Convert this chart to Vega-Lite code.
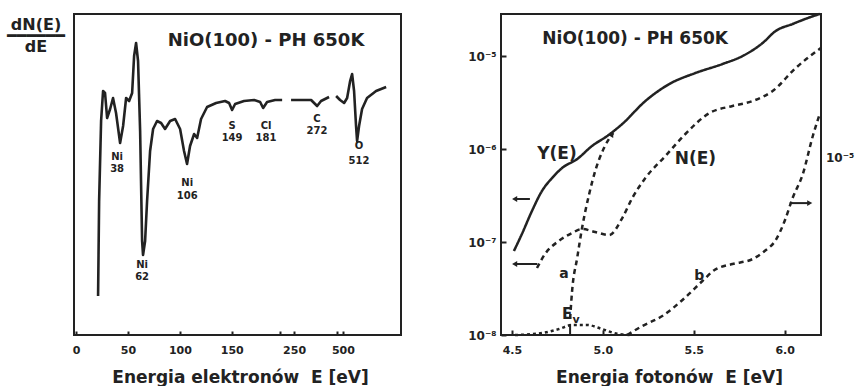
{
  "$schema": "https://vega.github.io/schema/vega-lite/v6.json",
  "padding": {"left": 5, "top": 8, "right": 0, "bottom": 0},
  "spacing": 64,
  "config": {
    "view": {"stroke": "#222", "strokeWidth": 2},
    "axis": {"labelFont": "DejaVu Sans", "labelFontWeight": "bold", "labelFontSize": 11, "labelColor": "#222", "titleFont": "DejaVu Sans", "titleFontWeight": "bold", "titleFontSize": 17, "titleColor": "#222", "tickColor": "#222", "tickWidth": 2, "grid": false, "domain": false},
    "text": {"font": "DejaVu Sans", "fontWeight": "bold", "color": "#222"}
  },
  "datasets": {
    "auger": [
      {"seg": 1, "pos": 21.2, "signal": 39}, {"seg": 1, "pos": 22.2, "signal": 134}, {"seg": 1, "pos": 24.1, "signal": 214}, {"seg": 1, "pos": 26.0, "signal": 244}, {"seg": 1, "pos": 27.9, "signal": 242}, {"seg": 1, "pos": 29.9, "signal": 217}, {"seg": 1, "pos": 32.8, "signal": 226}, {"seg": 1, "pos": 35.6, "signal": 237}, {"seg": 1, "pos": 38.5, "signal": 222}, {"seg": 1, "pos": 42.4, "signal": 192}, {"seg": 1, "pos": 45.3, "signal": 209}, {"seg": 1, "pos": 48.2, "signal": 237}, {"seg": 1, "pos": 51.1, "signal": 234}, {"seg": 1, "pos": 54.0, "signal": 242}, {"seg": 1, "pos": 55.9, "signal": 279}, {"seg": 1, "pos": 57.8, "signal": 292}, {"seg": 1, "pos": 59.7, "signal": 274}, {"seg": 1, "pos": 61.7, "signal": 204}, {"seg": 1, "pos": 63.6, "signal": 94}, {"seg": 1, "pos": 64.5, "signal": 80}, {"seg": 1, "pos": 66.5, "signal": 94}, {"seg": 1, "pos": 68.4, "signal": 134}, {"seg": 1, "pos": 71.3, "signal": 184}, {"seg": 1, "pos": 74.2, "signal": 206}, {"seg": 1, "pos": 78.0, "signal": 214}, {"seg": 1, "pos": 81.9, "signal": 212}, {"seg": 1, "pos": 85.7, "signal": 206}, {"seg": 1, "pos": 90.6, "signal": 214}, {"seg": 1, "pos": 95.4, "signal": 216}, {"seg": 1, "pos": 100.2, "signal": 206}, {"seg": 1, "pos": 104.0, "signal": 184}, {"seg": 1, "pos": 106.9, "signal": 171}, {"seg": 1, "pos": 109.8, "signal": 189}, {"seg": 1, "pos": 113.7, "signal": 201}, {"seg": 1, "pos": 116.6, "signal": 197}, {"seg": 1, "pos": 120.4, "signal": 216}, {"seg": 1, "pos": 126.2, "signal": 228}, {"seg": 1, "pos": 134.9, "signal": 232}, {"seg": 1, "pos": 143.5, "signal": 234}, {"seg": 1, "pos": 147.4, "signal": 232}, {"seg": 1, "pos": 150.3, "signal": 225}, {"seg": 1, "pos": 153.2, "signal": 231}, {"seg": 1, "pos": 161.8, "signal": 234}, {"seg": 1, "pos": 171.5, "signal": 235}, {"seg": 1, "pos": 177.3, "signal": 233}, {"seg": 1, "pos": 180.2, "signal": 227}, {"seg": 1, "pos": 184.0, "signal": 233}, {"seg": 1, "pos": 191.7, "signal": 235}, {"seg": 1, "pos": 198.5, "signal": 235},
      {"seg": 2, "pos": 207.1, "signal": 235}, {"seg": 2, "pos": 219.7, "signal": 235}, {"seg": 2, "pos": 226.4, "signal": 235}, {"seg": 2, "pos": 232.2, "signal": 229}, {"seg": 2, "pos": 236.0, "signal": 234}, {"seg": 2, "pos": 243.7, "signal": 238},
      {"seg": 3, "pos": 250.5, "signal": 239}, {"seg": 3, "pos": 254.3, "signal": 235}, {"seg": 3, "pos": 258.2, "signal": 232}, {"seg": 3, "pos": 261.1, "signal": 237}, {"seg": 3, "pos": 264.0, "signal": 254}, {"seg": 3, "pos": 265.9, "signal": 261}, {"seg": 3, "pos": 267.8, "signal": 244}, {"seg": 3, "pos": 269.7, "signal": 209}, {"seg": 3, "pos": 270.7, "signal": 194}, {"seg": 3, "pos": 272.6, "signal": 209}, {"seg": 3, "pos": 275.5, "signal": 226}, {"seg": 3, "pos": 280.3, "signal": 237}, {"seg": 3, "pos": 289.0, "signal": 244}, {"seg": 3, "pos": 298.7, "signal": 248}
    ],
    "auger_labels": [
      {"pos": 39.5, "signal": 178, "text": "Ni"}, {"pos": 39.5, "signal": 166, "text": "38"},
      {"pos": 63.6, "signal": 70, "text": "Ni"}, {"pos": 63.6, "signal": 58, "text": "62"},
      {"pos": 107, "signal": 152, "text": "Ni"}, {"pos": 107, "signal": 139, "text": "106"},
      {"pos": 150.3, "signal": 209, "text": "S"}, {"pos": 150.3, "signal": 197, "text": "149"},
      {"pos": 183, "signal": 209, "text": "Cl"}, {"pos": 183, "signal": 197, "text": "181"},
      {"pos": 232, "signal": 216, "text": "C"}, {"pos": 232, "signal": 204, "text": "272"},
      {"pos": 272.6, "signal": 189, "text": "O"}, {"pos": 272.6, "signal": 174, "text": "512"}
    ],
    "photo": [
      {"curve": "Y", "E": 4.511, "v": 8.0e-8}, {"curve": "Y", "E": 4.555, "v": 1.22e-7}, {"curve": "Y", "E": 4.610, "v": 2.15e-7}, {"curve": "Y", "E": 4.665, "v": 3.53e-7}, {"curve": "Y", "E": 4.721, "v": 4.88e-7}, {"curve": "Y", "E": 4.776, "v": 6.25e-7}, {"curve": "Y", "E": 4.859, "v": 7.8e-7}, {"curve": "Y", "E": 4.941, "v": 1.08e-6}, {"curve": "Y", "E": 5.024, "v": 1.38e-6}, {"curve": "Y", "E": 5.107, "v": 1.86e-6}, {"curve": "Y", "E": 5.234, "v": 3.28e-6}, {"curve": "Y", "E": 5.366, "v": 5.0e-6}, {"curve": "Y", "E": 5.509, "v": 6.56e-6}, {"curve": "Y", "E": 5.658, "v": 8.2e-6}, {"curve": "Y", "E": 5.769, "v": 1.0e-5}, {"curve": "Y", "E": 5.879, "v": 1.38e-5}, {"curve": "Y", "E": 5.951, "v": 1.86e-5}, {"curve": "Y", "E": 6.044, "v": 2.21e-5}, {"curve": "Y", "E": 6.127, "v": 2.56e-5}, {"curve": "Y", "E": 6.193, "v": 2.83e-5},
      {"curve": "N", "E": 4.638, "v": 5.25e-8}, {"curve": "N", "E": 4.682, "v": 7.43e-8}, {"curve": "N", "E": 4.759, "v": 1.03e-7}, {"curve": "N", "E": 4.831, "v": 1.25e-7}, {"curve": "N", "E": 4.886, "v": 1.38e-7}, {"curve": "N", "E": 4.958, "v": 1.28e-7}, {"curve": "N", "E": 5.035, "v": 1.19e-7}, {"curve": "N", "E": 5.107, "v": 1.81e-7}, {"curve": "N", "E": 5.162, "v": 2.97e-7}, {"curve": "N", "E": 5.234, "v": 4.88e-7}, {"curve": "N", "E": 5.344, "v": 8.41e-7}, {"curve": "N", "E": 5.454, "v": 1.45e-6}, {"curve": "N", "E": 5.587, "v": 2.44e-6}, {"curve": "N", "E": 5.713, "v": 2.9e-6}, {"curve": "N", "E": 5.824, "v": 3.28e-6}, {"curve": "N", "E": 5.934, "v": 4.21e-6}, {"curve": "N", "E": 6.061, "v": 7.43e-6}, {"curve": "N", "E": 6.199, "v": 1.22e-5},
      {"curve": "a", "E": 4.820, "v": 1.49e-8}, {"curve": "a", "E": 4.831, "v": 2.97e-8}, {"curve": "a", "E": 4.859, "v": 6.73e-8}, {"curve": "a", "E": 4.886, "v": 1.42e-7}, {"curve": "a", "E": 4.925, "v": 3.28e-7}, {"curve": "a", "E": 4.958, "v": 5.79e-7}, {"curve": "a", "E": 5.007, "v": 1.03e-6}, {"curve": "a", "E": 5.057, "v": 1.49e-6},
      {"curve": "b", "E": 5.134, "v": 1.0e-8}, {"curve": "b", "E": 5.217, "v": 1.25e-8}, {"curve": "b", "E": 5.327, "v": 1.6e-8}, {"curve": "b", "E": 5.438, "v": 2.38e-8}, {"curve": "b", "E": 5.548, "v": 3.81e-8}, {"curve": "b", "E": 5.614, "v": 5.0e-8}, {"curve": "b", "E": 5.713, "v": 5.8e-8}, {"curve": "b", "E": 5.824, "v": 6.56e-8}, {"curve": "b", "E": 5.890, "v": 8.0e-8}, {"curve": "b", "E": 5.951, "v": 1.05e-7}, {"curve": "b", "E": 6.000, "v": 1.68e-7}, {"curve": "b", "E": 6.044, "v": 2.97e-7}, {"curve": "b", "E": 6.100, "v": 5.38e-7}, {"curve": "b", "E": 6.155, "v": 1.38e-6}, {"curve": "b", "E": 6.193, "v": 2.38e-6},
      {"curve": "Ev", "E": 4.517, "v": 1.0e-8}, {"curve": "Ev", "E": 4.665, "v": 1.05e-8}, {"curve": "Ev", "E": 4.759, "v": 1.16e-8}, {"curve": "Ev", "E": 4.831, "v": 1.28e-8}, {"curve": "Ev", "E": 4.914, "v": 1.28e-8}, {"curve": "Ev", "E": 4.996, "v": 1.16e-8}, {"curve": "Ev", "E": 5.079, "v": 1.03e-8}, {"curve": "Ev", "E": 5.162, "v": 1.0e-8}
    ],
    "arrows": [
      {"E": 4.599, "E2": 4.515, "v": 2.9e-7, "dir": "left"},
      {"E": 4.640, "E2": 4.515, "v": 5.8e-8, "dir": "left"},
      {"E": 6.028, "E2": 6.138, "v": 2.62e-7, "dir": "right"}
    ]
  },
  "hconcat": [
    {
      "width": 327,
      "height": 321,
      "layer": [
        {
          "data": {"name": "auger"},
          "mark": {"type": "line", "color": "#222", "strokeWidth": 2.6, "strokeJoin": "round"},
          "encoding": {
            "x": {"field": "pos", "type": "quantitative", "scale": {"domain": [-2, 313], "nice": false, "zero": false},
              "axis": {"values": [0, 50, 100, 150, 196.5, 210, 251, 257], "labelExpr": "datum.value==0?'0':datum.value==50?'50':datum.value==100?'100':datum.value==150?'150':datum.value==210?'250':datum.value==257?'500':''", "labelOverlap": false, "labelFlush": false, "tickSize": -4, "labelPadding": 13, "title": "Energia elektronów\u00a0 E [eV]", "titlePadding": 14, "titleX": 166}},
            "y": {"field": "signal", "type": "quantitative", "scale": {"domain": [0, 321], "nice": false},
              "axis": {"labels": false, "ticks": false, "title": ["dN(E)", "━━━━━━", "dE"], "titleAngle": 0, "titleAlign": "center", "titleBaseline": "top", "titleX": -38.5, "titleY": 2, "titleFontSize": 16, "titleLineHeight": 11}},
            "detail": {"field": "seg", "type": "nominal"}
          }
        },
        {
          "data": {"name": "auger_labels"},
          "mark": {"type": "text", "fontSize": 10},
          "encoding": {
            "x": {"field": "pos", "type": "quantitative"},
            "y": {"field": "signal", "type": "quantitative"},
            "text": {"field": "text"}
          }
        },
        {
          "data": {"values": [{"pos": 183, "signal": 294, "text": "NiO(100) - PH 650K"}]},
          "mark": {"type": "text", "fontSize": 18},
          "encoding": {
            "x": {"field": "pos", "type": "quantitative"},
            "y": {"field": "signal", "type": "quantitative"},
            "text": {"field": "text"}
          }
        }
      ]
    },
    {
      "width": 320,
      "height": 321,
      "encoding": {
        "x": {"field": "E", "type": "quantitative", "scale": {"domain": [4.44, 6.2], "nice": false, "zero": false},
          "axis": {"values": [4.5, 5.0, 5.5, 6.0], "format": ".1f", "tickSize": -5, "labelPadding": 14, "labelFlush": false, "title": "Energia fotonów\u00a0 E [eV]", "titlePadding": 14, "titleX": 168}},
        "y": {"field": "v", "type": "quantitative", "scale": {"type": "log", "domain": [1e-8, 2.83e-5], "nice": false},
          "axis": {"values": [1e-8, 1e-7, 1e-6, 1e-5], "labelExpr": "datum.value>9e-6?'10⁻⁵':datum.value>9e-7?'10⁻⁶':datum.value>9e-8?'10⁻⁷':'10⁻⁸'", "labelFontSize": 12, "tickSize": -5, "labelPadding": 10, "labelOverlap": false, "labelFlush": false, "title": null}}
      },
      "layer": [
        {
          "data": {"name": "photo"},
          "mark": {"type": "line", "color": "#222", "strokeWidth": 2.5, "interpolate": "monotone"},
          "encoding": {
            "strokeDash": {"field": "curve", "type": "nominal", "scale": {"domain": ["Y", "N", "a", "b", "Ev"], "range": [[1, 0], [5, 4], [5, 4], [5, 4], [3, 3]]}, "legend": null}
          }
        },
        {
          "data": {"name": "arrows"},
          "mark": {"type": "rule", "color": "#222", "strokeWidth": 2},
          "encoding": {"x2": {"field": "E2"}}
        },
        {
          "data": {"name": "arrows"},
          "mark": {"type": "point", "filled": true, "color": "#222", "opacity": 1, "size": 35},
          "encoding": {
            "x": {"field": "E2", "type": "quantitative"},
            "shape": {"field": "dir", "type": "nominal", "scale": {"domain": ["left", "right"], "range": ["triangle-left", "triangle-right"]}, "legend": null}
          }
        },
        {
          "data": {"values": [{"E": 5.05, "v": 1.45e-6}]},
          "mark": {"type": "point", "shape": "triangle-up", "angle": 31, "filled": true, "color": "#222", "opacity": 1, "size": 40}
        },
        {
          "data": {"values": [{"E": 4.82, "v": 1e-8, "v2": 1.31e-8}]},
          "mark": {"type": "rule", "color": "#222", "strokeWidth": 2},
          "encoding": {"y2": {"field": "v2"}}
        },
        {
          "data": {"values": [{"E": 5.178, "v": 1.52e-5, "text": "NiO(100) - PH 650K"}, {"E": 4.748, "v": 8.83e-7, "text": "Y(E)"}, {"E": 5.509, "v": 7.8e-7, "text": "N(E)"}]},
          "mark": {"type": "text", "fontSize": 17},
          "encoding": {"text": {"field": "text"}}
        },
        {
          "data": {"values": [{"E": 4.787, "v": 4.53e-8, "text": "a"}, {"E": 5.531, "v": 4.3e-8, "text": "b"}]},
          "mark": {"type": "text", "fontSize": 14},
          "encoding": {"text": {"field": "text"}}
        },
        {
          "data": {"values": [{"E": 4.803, "v": 1.68e-8, "text": "E"}]},
          "mark": {"type": "text", "fontSize": 15},
          "encoding": {"text": {"field": "text"}}
        },
        {
          "data": {"values": [{"E": 4.803, "v": 1.68e-8, "text": "v"}]},
          "mark": {"type": "text", "fontSize": 11, "dx": 9, "dy": 6},
          "encoding": {"text": {"field": "text"}}
        },
        {
          "data": {"values": [{"E": 6.2, "v": 8.0e-7, "text": "10⁻⁵"}]},
          "mark": {"type": "text", "fontSize": 12, "align": "left", "dx": 5, "clip": false},
          "encoding": {"text": {"field": "text"}}
        }
      ]
    }
  ]
}
